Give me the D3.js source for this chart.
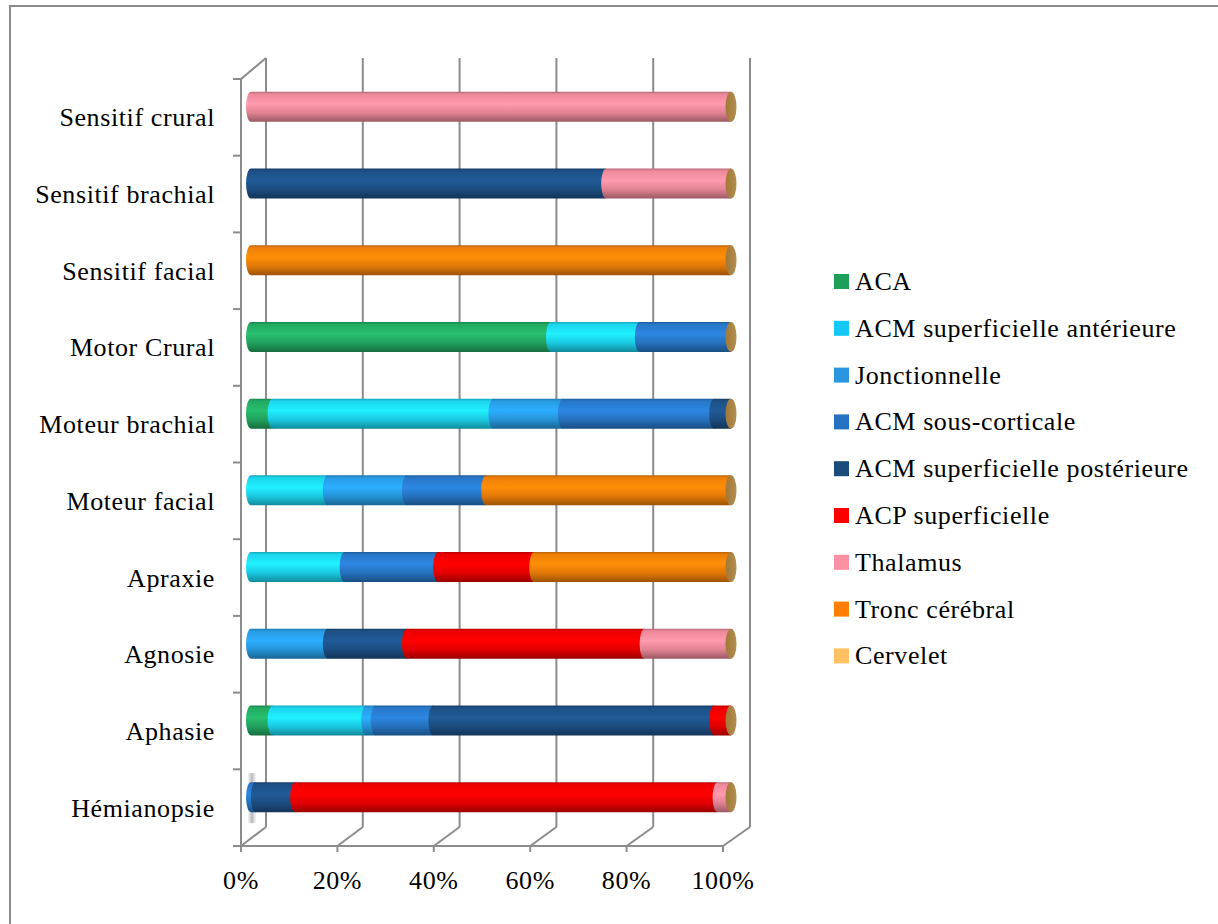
<!DOCTYPE html>
<html>
<head>
<meta charset="utf-8">
<script src="https://cdn.jsdelivr.net/npm/d3@7"></script>
<style>
  html, body { margin: 0; padding: 0; background: #fff; }
  text { font-family: "Liberation Serif", "DejaVu Serif", serif; fill: #000; letter-spacing: 0.6px; }
</style>
</head>
<body>
<div id="chart"></div>
<script>
"use strict";

// categories, bottom to top (Excel order)
var categories = ["Hémianopsie", "Aphasie", "Agnosie", "Apraxie", "Moteur facial",
                  "Moteur brachial", "Motor Crural", "Sensitif facial", "Sensitif brachial", "Sensitif crural"];

var seriesNames = ["ACA", "ACM superficielle antérieure", "Jonctionnelle", "ACM sous-corticale",
                   "ACM superficielle postérieure", "ACP superficielle", "Thalamus", "Tronc cérébral", "Cervelet"];

// percent per category (same order as categories)
var aca        = [0,   4.5,  0,    0,    0,    4.5,  62.5, 0,   0,  0];
var acmAnt     = [0,   19.5, 0,    19.5, 16,   46,   18.5, 0,   0,  0];
var jonction   = [0,   2,    16,   0,    16.5, 14.5, 0,    0,   0,  0];
var acmSousCort= [1,   12,   0,    19.5, 16.5, 31.5, 19,   0,   0,  0];
var acmPost    = [8.2, 58.5, 16.5, 0,    0,    3.5,  0,    0,   74, 0];
var acp        = [88,  3.5,  49.5, 20,   0,    0,    0,    0,   0,  0];
var thalamus   = [2.8, 0,    18,   0,    0,    0,    0,    0,   26, 100];
var tronc      = [0,   0,    0,    41,   51,   0,    0,    100, 0,  0];
var cervelet   = [0,   0,    0,    0,    0,    0,    0,    0,   0,  0];

var xTicks = ["0%", "20%", "40%", "60%", "80%", "100%"];

var legendColors = ["#1f9e58", "#14c8f5", "#2a96e0", "#2672c2", "#1b4a7c", "#ff0000", "#ff8fa2", "#ff8000", "#ffc262"];
var barColors    = ["#25b568", "#1ee4ff", "#2aa6f4", "#2a80d6", "#1f5690", "#ff0000", "#ff93a5", "#ff8808", "#ffc262"];

var allSeries = [aca, acmAnt, jonction, acmSousCort, acmPost, acp, thalamus, tronc, cervelet];

var width = 1218, height = 924;

var svg = d3.select("#chart").append("svg")
    .attr("width", width)
    .attr("height", height);

// outer frame
svg.append("rect")
    .attr("x", 10).attr("y", 6)
    .attr("width", 1300).attr("height", 1000)
    .attr("fill", "none")
    .attr("stroke", "#8c8c8c")
    .attr("stroke-width", 2);

var table = categories.map(function (c, i) {
    var row = { cat: c };
    seriesNames.forEach(function (s, j) { row[s] = allSeries[j][i]; });
    return row;
});

var stacked = d3.stack().keys(seriesNames).offset(d3.stackOffsetExpand)(table);

// 3D geometry: front plane, back wall, bar plane
var xFront = d3.scaleLinear().domain([0, 1]).range([241, 723]);
var xBack  = d3.scaleLinear().domain([0, 1]).range([266, 750]);
var xBar   = d3.scaleLinear().domain([0, 1]).range([251, 731]);
var yBand  = d3.scaleBand().domain(categories.slice().reverse()).range([79, 846]);
var backTop = 58, backBottom = 827, frontBottom = 846;
var barH = 30, barShift = -10.5, rx = 5;

var gridColor = "#8c8c8c";
var axes = svg.append("g").attr("stroke", gridColor).attr("stroke-width", 2).attr("fill", "none");

var tickVals = d3.range(0, 1.0001, 0.2);

// back wall gridlines
axes.selectAll("line.grid").data(tickVals).enter().append("line")
    .attr("class", "grid")
    .attr("x1", function (d) { return xBack(d); }).attr("x2", function (d) { return xBack(d); })
    .attr("y1", backTop).attr("y2", backBottom);

// floor diagonals
axes.selectAll("line.floor").data(tickVals).enter().append("line")
    .attr("class", "floor")
    .attr("x1", function (d) { return xFront(d); }).attr("y1", frontBottom)
    .attr("x2", function (d) { return xBack(d); }).attr("y2", backBottom);

// front x axis + ticks
axes.append("line")
    .attr("x1", xFront(0)).attr("x2", xFront(1))
    .attr("y1", frontBottom).attr("y2", frontBottom);
axes.selectAll("line.xt").data(tickVals).enter().append("line")
    .attr("class", "xt")
    .attr("x1", function (d) { return xFront(d); }).attr("x2", function (d) { return xFront(d); })
    .attr("y1", frontBottom).attr("y2", frontBottom + 6);

// left axis, its ticks and top diagonal
axes.append("line")
    .attr("x1", xFront(0)).attr("x2", xFront(0))
    .attr("y1", yBand.range()[0]).attr("y2", frontBottom);
var yTickPos = yBand.domain().map(function (c) { return yBand(c); }).concat([yBand.range()[1]]);
axes.selectAll("line.yt").data(yTickPos).enter().append("line")
    .attr("class", "yt")
    .attr("x1", xFront(0) - 8).attr("x2", xFront(0))
    .attr("y1", function (d) { return d; }).attr("y2", function (d) { return d; });
axes.append("line")
    .attr("x1", xFront(0)).attr("y1", yBand.range()[0])
    .attr("x2", xBack(0)).attr("y2", backTop);

// x tick labels
svg.append("g").selectAll("text").data(tickVals).enter().append("text")
    .attr("x", function (d) { return xFront(d); })
    .attr("y", 889)
    .attr("text-anchor", "middle")
    .style("font-size", "26px")
    .text(function (d, i) { return xTicks[i]; });

// category labels
svg.append("g").selectAll("text").data(categories).enter().append("text")
    .attr("x", 215)
    .attr("y", function (d) { return yBand(d) + yBand.bandwidth() / 2 + 9; })
    .attr("text-anchor", "end")
    .style("font-size", "26px")
    .text(function (d) { return d; });

// cylinder gradients
var defs = svg.append("defs");
barColors.forEach(function (c, i) {
    var g = defs.append("linearGradient")
        .attr("id", "cyl" + i)
        .attr("x1", 0).attr("y1", 0).attr("x2", 0).attr("y2", 1);
    var base = d3.color(c);
    g.append("stop").attr("offset", "0%").attr("stop-color", base.darker(0.9));
    g.append("stop").attr("offset", "8%").attr("stop-color", base.darker(0.2));
    g.append("stop").attr("offset", "40%").attr("stop-color", base.brighter(0.15));
    g.append("stop").attr("offset", "70%").attr("stop-color", base.darker(0.35));
    g.append("stop").attr("offset", "100%").attr("stop-color", base.darker(1.4));
});
var capGrad = defs.append("linearGradient")
    .attr("id", "cap").attr("x1", 0).attr("y1", 0).attr("x2", 1).attr("y2", 0);
capGrad.append("stop").attr("offset", "0%").attr("stop-color", "#a07838");
capGrad.append("stop").attr("offset", "100%").attr("stop-color", "#b48e50");

// soft shadow seen left of the lowest bar
var shGrad = defs.append("linearGradient")
    .attr("id", "shadow").attr("x1", 0).attr("y1", 0).attr("x2", 1).attr("y2", 0);
shGrad.append("stop").attr("offset", "0%").attr("stop-color", "#999").attr("stop-opacity", 0.1);
shGrad.append("stop").attr("offset", "50%").attr("stop-color", "#888").attr("stop-opacity", 0.6);
shGrad.append("stop").attr("offset", "100%").attr("stop-color", "#aaa").attr("stop-opacity", 0.1);

function segPath(x0, x1, yc) {
    var t = yc - barH / 2, b = yc + barH / 2;
    return "M" + x0 + "," + t + "L" + x1 + "," + t + "L" + x1 + "," + b + "L" + x0 + "," + b +
        "A" + rx + "," + (barH / 2) + " 0 0 1 " + x0 + "," + t + "Z";
}

var yLow = yBand(categories[0]) + yBand.bandwidth() / 2 + barShift;
svg.append("rect")
    .attr("x", xBar(0) - 3).attr("y", yLow - 24)
    .attr("width", 8).attr("height", 50)
    .attr("fill", "url(#shadow)");

var bars = svg.append("g");
stacked.forEach(function (layer, si) {
    bars.append("g").selectAll("path")
        .data(layer.filter(function (d) { return d[1] - d[0] > 0; }))
        .enter().append("path")
        .attr("fill", "url(#cyl" + si + ")")
        .attr("d", function (d) {
            var yc = yBand(d.data.cat) + yBand.bandwidth() / 2 + barShift;
            return segPath(xBar(d[0]), xBar(d[1]), yc);
        });
});

// end caps
bars.append("g").selectAll("ellipse").data(categories).enter().append("ellipse")
    .attr("cx", xBar(1))
    .attr("cy", function (d) { return yBand(d) + yBand.bandwidth() / 2 + barShift; })
    .attr("rx", 5.5)
    .attr("ry", barH / 2)
    .attr("fill", "url(#cap)");

// legend
var legend = svg.append("g").attr("transform", "translate(834,274)");
var item = legend.selectAll("g").data(seriesNames).enter().append("g")
    .attr("transform", function (d, i) { return "translate(0," + (i * 46.8) + ")"; });
item.append("rect")
    .attr("width", 15).attr("height", 15)
    .attr("fill", function (d, i) { return legendColors[i]; });
item.append("text")
    .attr("x", 21).attr("y", 16)
    .style("font-size", "26px")
    .text(function (d) { return d; });
</script>
</body>
</html>
